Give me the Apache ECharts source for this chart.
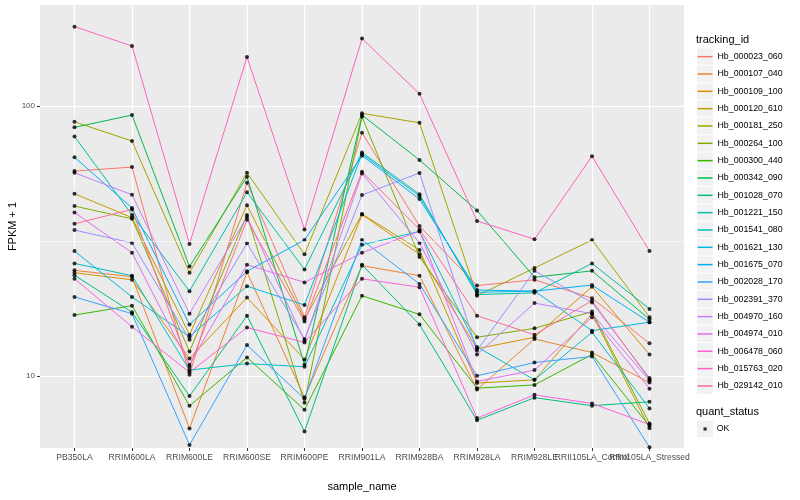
<!DOCTYPE html>
<html><head><meta charset="utf-8">
<script src="https://cdn.jsdelivr.net/npm/echarts@6/dist/echarts.min.js"></script>
<style>html,body{margin:0;padding:0;background:#fff}#c{width:800px;height:500px}</style>
</head><body><div id="c"></div>
<script>
const categories = ['PB350LA','RRIM600LA','RRIM600LE','RRIM600SE','RRIM600PE','RRIM901LA','RRIM928BA','RRIM928LA','RRIM928LE','RRII105LA_Control','RRII105LA_Stressed'];
const trackingIds = ['Hb_000023_060','Hb_000107_040','Hb_000109_100','Hb_000120_610','Hb_000181_250','Hb_000264_100','Hb_000300_440','Hb_000342_090','Hb_001028_070','Hb_001221_150','Hb_001541_080','Hb_001621_130','Hb_001675_070','Hb_002028_170','Hb_002391_370','Hb_004970_160','Hb_004974_010','Hb_006478_060','Hb_015763_020','Hb_029142_010'];
const palette = ['#F8766D','#EA8331','#D89000','#C09B00','#A3A500','#7CAE00','#39B600','#00BB4E','#00BF7D','#00C1A3','#00BFC4','#00BAE0','#00B0F6','#35A2FF','#9590FF','#C77CFF','#E76BF3','#FA62DB','#FF62BC','#FF6C91'];
const yTicks = [10, 100];

const hb_000023_060 = [57.4, 59.4, 10.1, 52.0, 16.5, 79.6, 35.9, 21.6, 22.7, 19.4, 13.2];
const hb_000107_040 = [24.6, 23.3, 6.38, 24.2, 8.32, 25.6, 23.5, 8.9, 13.7, 12.2, 9.44];
const hb_000109_100 = [24.1, 22.7, 11.6, 19.5, 11.5, 39.6, 28.2, 12.6, 13.9, 21.4, 12.0];
const hb_000120_610 = [47.3, 38.6, 14.2, 42.9, 16.2, 39.8, 29.3, 9.4, 9.66, 17.0, 6.39];
const hb_000181_250 = [87.4, 74.2, 24.1, 56.6, 28.2, 94.0, 86.7, 19.8, 25.1, 31.9, 16.5];
const hb_000264_100 = [42.6, 38.2, 12.3, 39.5, 7.94, 91.3, 27.6, 13.9, 15.0, 17.3, 6.65];
const hb_000300_440 = [16.8, 18.2, 7.74, 11.7, 7.48, 19.8, 16.9, 9.0, 9.25, 12.0, 6.51];
const hb_000342_090 = [83.4, 92.6, 25.4, 54.7, 11.0, 92.6, 63.1, 41.0, 23.2, 24.5, 16.2];
const hb_001028_070 = [23.6, 17.2, 8.41, 16.7, 6.22, 25.8, 15.5, 6.84, 8.3, 7.75, 8.01];
const hb_001221_150 = [77.2, 39.5, 20.6, 47.9, 24.8, 67.3, 47.1, 20.0, 20.3, 26.1, 17.7];
const hb_001541_080 = [26.1, 23.5, 10.5, 11.1, 10.8, 30.6, 34.3, 12.8, 9.66, 14.5, 7.57];
const hb_001621_130 = [29.0, 19.6, 13.96, 21.5, 18.3, 66.4, 46.4, 20.4, 20.6, 14.7, 15.8];
const hb_001675_070 = [64.6, 41.9, 15.5, 24.4, 31.9, 65.5, 45.2, 20.8, 20.6, 21.7, 15.8];
const hb_002028_170 = [19.6, 17.0, 5.54, 13.0, 8.22, 31.9, 21.9, 10.0, 11.2, 11.8, 5.43];
const hb_002391_370 = [34.7, 31.1, 13.6, 31.0, 13.7, 46.8, 56.5, 12.4, 24.5, 18.7, 9.81];
const hb_004970_160 = [56.6, 46.9, 17.0, 38.8, 13.5, 56.3, 31.1, 12.0, 18.6, 17.0, 9.61];
const hb_004974_010 = [40.3, 28.6, 11.0, 25.8, 22.2, 28.6, 34.4, 9.53, 10.5, 16.5, 8.96];
const hb_006478_060 = [22.9, 15.2, 10.3, 15.1, 13.3, 22.9, 21.3, 6.97, 8.5, 7.9, 6.6];
const hb_015763_020 = [197, 167, 30.8, 152, 34.9, 178, 111, 37.5, 32.1, 65.2, 29.0];
const hb_029142_010 = [36.6, 41.4, 10.8, 37.9, 15.9, 57.1, 34.9, 16.7, 14.2, 19.0, 9.7];

const seriesValues = [hb_000023_060, hb_000107_040, hb_000109_100, hb_000120_610, hb_000181_250, hb_000264_100, hb_000300_440, hb_000342_090, hb_001028_070, hb_001221_150, hb_001541_080, hb_001621_130, hb_001675_070, hb_002028_170, hb_002391_370, hb_004970_160, hb_004974_010, hb_006478_060, hb_015763_020, hb_029142_010];

const FONT = 'Liberation Sans, Arial, Helvetica, sans-serif';
const chart = echarts.init(document.getElementById('c'), null, {renderer: 'canvas'});
const catIdx = categories.map((c, i) => i);
const evenIdx = catIdx.filter(i => i % 2 === 0);
const oddIdx = catIdx.filter(i => i % 2 === 1);

const lineSeries = seriesValues.map((vals, k) => ({
  name: trackingIds[k],
  type: 'line',
  z: 2,
  showSymbol: false,
  symbol: 'none',
  silent: true,
  animation: false,
  itemStyle: {color: palette[k]},
  lineStyle: {color: palette[k], width: 1},
  emphasis: {disabled: true},
  data: vals.map((v, i) => [i, v])
}));

const pts = [];
seriesValues.forEach(vals => vals.forEach((v, i) => pts.push([i, v])));

const minorLine = {
  name: '_minor', type: 'line', z: 1, data: [], silent: true,
  markLine: {silent: true, symbol: 'none', label: {show: false},
    lineStyle: {color: '#ffffff', width: 0.6, type: 'solid'},
    data: [{yAxis: Math.sqrt(10) * 10}]}
};

const pointSeries = {
  name: 'OK', type: 'scatter', z: 3, symbol: 'circle', symbolSize: 4,
  itemStyle: {color: '#000000'}, silent: true, animation: false,
  data: pts
};

const KEY_TOP = 48.0, KEY_STEP = 17.33;
const legends = trackingIds.map((name, k) => ({
  orient: 'vertical', left: 697.5, top: KEY_TOP + k * KEY_STEP, padding: 0,
  itemWidth: 15, itemHeight: 1.5, icon: 'rect', selectedMode: false,
  data: [name],
  textStyle: {fontFamily: FONT, fontSize: 8.8, color: '#000', lineHeight: KEY_STEP}
}));
legends.push({
  orient: 'vertical', left: 703.5, top: 420.3, padding: 0,
  itemWidth: 3.2, itemHeight: 3.2, icon: 'rect', selectedMode: false,
  data: ['OK'],
  textStyle: {fontFamily: FONT, fontSize: 8.8, color: '#000', lineHeight: KEY_STEP, padding: [0, 0, 0, 5]}
});

const keyBoxes = trackingIds.map((name, k) => ({
  type: 'rect', left: 697, top: KEY_TOP + k * KEY_STEP + 0.5,
  shape: {width: 16, height: KEY_STEP - 1}, style: {fill: '#F2F2F2'}, z: 0
}));
keyBoxes.push({type: 'rect', left: 697, top: 420.8, shape: {width: 16, height: KEY_STEP - 1}, style: {fill: '#F2F2F2'}, z: 0});

function xAxisCfg(vals, main) {
  return {
    type: 'value', min: -0.6, max: 10.6, position: 'bottom', offset: 0,
    name: main ? 'sample_name' : '', nameLocation: 'middle', nameGap: 33, nameMoveOverlap: false,
    nameTextStyle: {fontFamily: FONT, fontSize: 11, color: '#000'},
    axisLine: {show: false, onZero: false},
    axisTick: {show: true, length: 3, lineStyle: {color: '#333333', width: 1}, customValues: vals},
    axisLabel: {show: true, customValues: vals, margin: 5, fontFamily: FONT, fontSize: 8.6, color: '#4D4D4D', hideOverlap: false,
      formatter: v => categories[Math.round(v)]},
    splitLine: {show: main, lineStyle: {color: '#ffffff', width: 1.2}},
    minorTick: {show: false}, minorSplitLine: {show: false}
  };
}
const xMain = xAxisCfg(evenIdx, true);
xMain.splitLine.show = false;
const xSecond = xAxisCfg(oddIdx, false);
const xGridLines = xAxisCfg(catIdx, false);
xGridLines.axisLabel.show = false;
xGridLines.axisTick.show = false;
xGridLines.splitLine.show = true;

chart.setOption({
  animation: false,
  backgroundColor: '#ffffff',
  textStyle: {fontFamily: FONT},
  title: [
    {text: 'tracking_id', left: 696, top: 34, padding: 0, textStyle: {fontFamily: FONT, fontSize: 11, fontWeight: 'normal', color: '#000'}},
    {text: 'quant_status', left: 696, top: 406, padding: 0, textStyle: {fontFamily: FONT, fontSize: 11, fontWeight: 'normal', color: '#000'}}
  ],
  graphic: keyBoxes,
  legend: legends,
  grid: {left: 40, right: 116, top: 5, bottom: 52, show: true, backgroundColor: '#EBEBEB', borderWidth: 0, outerBoundsMode: 'none', containLabel: false},
  xAxis: [xGridLines, xMain, xSecond],
  yAxis: {
    type: 'log', logBase: 10, min: 5.4, max: 237, position: 'left',
    name: 'FPKM + 1', nameLocation: 'middle', nameGap: 22, nameRotate: 90, nameMoveOverlap: false,
    nameTextStyle: {fontFamily: FONT, fontSize: 11, color: '#000'},
    axisLine: {show: false, onZero: false},
    axisTick: {show: true, length: 3, lineStyle: {color: '#333333', width: 1}},
    axisLabel: {show: true, margin: 5, fontFamily: FONT, fontSize: 8, color: '#4D4D4D', showMinLabel: false, showMaxLabel: false,
      formatter: v => (yTicks.indexOf(Math.round(v)) >= 0 ? String(Math.round(v)) : '')},
    splitLine: {show: true, showMinLine: false, showMaxLine: false, lineStyle: {color: '#ffffff', width: 1.2}},
    minorTick: {show: false}, minorSplitLine: {show: false}
  },
  series: [minorLine].concat(lineSeries).concat([pointSeries])
});
</script></body></html>
